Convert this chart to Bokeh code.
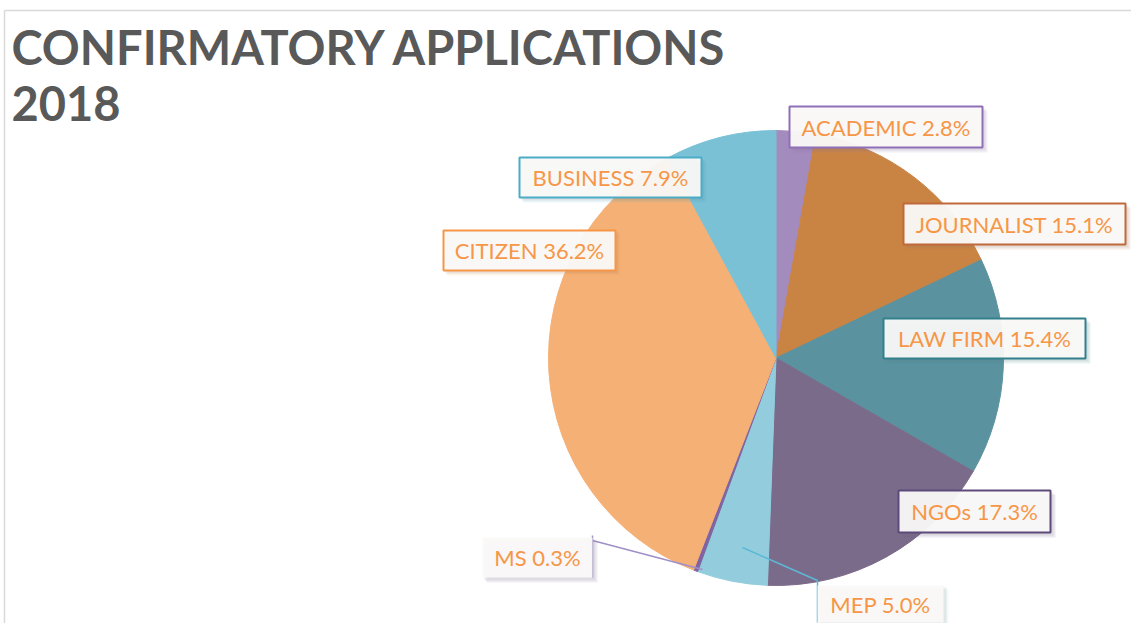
import numpy as np
from bokeh.plotting import figure
from bokeh.models import ColumnDataSource, Range1d
from bokeh.core.properties import value
from bokeh.embed import file_html
from bokeh.resources import INLINE

# ---- data ----
categories = ["ACADEMIC", "JOURNALIST", "LAW FIRM", "NGOs", "MEP", "MS", "CITIZEN", "BUSINESS"]
percents = [2.8, 15.1, 15.4, 17.3, 5.0, 0.3, 36.2, 7.9]
slice_colors = ["#A48BBD", "#C98444", "#5A929F", "#7B6B8B", "#93CDDD", "#8064A2", "#F5B075", "#7AC1D6"]
border_colors = ["#8F6FB8", "#C0693A", "#31808C", "#5D4A7A", "#93CDDD", "#8064A2", "#F79646", "#4BACC6"]
border_alpha = [1, 1, 1, 1, 0, 0, 1, 1]
title_lines = ["CONFIRMATORY APPLICATIONS", "2018"]

# ---- layout (reference pixel coordinates) ----
W, H = 1131, 623
def Y(py):
    return H - py

cx, cy, R = 775.5, Y(357.5), 227.5

# label boxes: left, right, top, bottom (px)
boxes = [
    (789, 982, 106, 147),
    (903, 1125, 203, 244),
    (883, 1085, 318, 358),
    (898, 1050, 490, 532),
    (817, 943, 585, 622),
    (482, 592, 537, 577),
    (443, 615, 230, 270),
    (519, 701, 157, 197),
]

p = figure(width=W, height=H, x_range=Range1d(0, W), y_range=Range1d(0, H),
           output_backend="svg", toolbar_location=None, min_border=0)
p.axis.visible = False
p.grid.visible = False
p.outline_line_color = None
p.background_fill_color = "white"

# chart frame (top and left edges)
p.line(x=[4, W], y=[Y(10), Y(10)], line_color="#D9D9D9", line_width=1.5)
p.line(x=[4, 4], y=[Y(10), Y(H)], line_color="#D9D9D9", line_width=1.5)

# pie
vals = np.array(percents) / 100.0
cum = np.cumsum(vals)
start = np.pi / 2 - 2 * np.pi * (cum - vals)
end = np.pi / 2 - 2 * np.pi * cum
src = ColumnDataSource(dict(cat=categories, start=start, end=end, color=slice_colors))
p.wedge(x=cx, y=cy, radius=R, start_angle="start", end_angle="end", direction="clock",
        fill_color="color", line_color="color", line_width=1, source=src)

# leader lines
p.line(x=[702, 592], y=[Y(569), Y(540)], line_color="#9F8FC8", line_width=1.5)
p.line(x=[592, 592], y=[Y(535), Y(577)], line_color="#9F8FC8", line_width=1.5)
p.line(x=[742, 817], y=[Y(547), Y(580)], line_color="#5BB8D5", line_width=1.5)
p.line(x=[817, 817], y=[Y(580), Y(622)], line_color="#5BB8D5", line_width=1.5)

# label boxes
L = [b[0] for b in boxes]
Rr = [b[1] for b in boxes]
T = [Y(b[2]) for b in boxes]
B = [Y(b[3]) for b in boxes]
texts = [f"{c} {v:.1f}%" for c, v in zip(categories, percents)]
bsrc = ColumnDataSource(dict(
    l=L, r=Rr, t=T, b=B,
    sl=[x + 4 for x in L], sr=[x + 5 for x in Rr], st=[y - 4 for y in T], sb=[y - 5 for y in B],
    sl2=[x + 2 for x in L], sr2=[x + 3 for x in Rr], st2=[y - 2 for y in T], sb2=[y - 3 for y in B],
    bc=border_colors, ba=border_alpha, text=texts,
    tx=[(a + b2) / 2 for a, b2 in zip(L, Rr)], ty=[(a + b2) / 2 for a, b2 in zip(T, B)],
))
p.quad(left="sl", right="sr", top="st", bottom="sb", fill_color="bc", fill_alpha=0.12, line_color=None, source=bsrc)
p.quad(left="sl2", right="sr2", top="st2", bottom="sb2", fill_color="#808080", fill_alpha=0.15, line_color=None, source=bsrc)
p.quad(left="l", right="r", top="t", bottom="b", fill_color="#FAF9F8", fill_alpha=0.95,
       line_color="bc", line_alpha="ba", line_width=2, source=bsrc)
p.text(x="tx", y="ty", text="text", source=bsrc, text_font=value("Lato"), text_font_size="22px",
       text_color="#F79646", text_align="center", text_baseline="middle")

# title
p.text(x=[11], y=[Y(46)], text=[title_lines[0]], text_font=value("Lato"), text_font_style="bold",
       text_font_size="47px", text_color="#595959", text_baseline="middle")
p.text(x=[11], y=[Y(103)], text=[title_lines[1]], text_font=value("Lato"), text_font_style="bold",
       text_font_size="47px", text_color="#595959", text_baseline="middle")

open("out.html", "w").write(file_html(p, INLINE))
